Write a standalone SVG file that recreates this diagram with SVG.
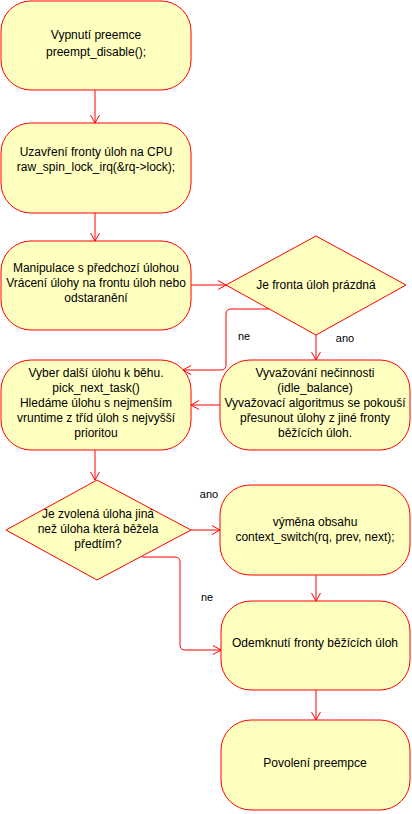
<svg xmlns="http://www.w3.org/2000/svg" width="412" height="814" viewBox="0 0 412 814">
<style>
.n{fill:#ffffc0;stroke:#ff0000;stroke-width:1}
.t{font-family:"Liberation Sans",Arial,sans-serif;font-size:12px;fill:#000;text-anchor:middle}
.l{font-family:"Liberation Sans",Arial,sans-serif;font-size:11px;fill:#000;text-anchor:middle}
.c{fill:none;stroke:#ff0000;stroke-width:1}
</style>
<defs>
<marker id="a" markerUnits="userSpaceOnUse" markerWidth="10" markerHeight="11" refX="9" refY="5" orient="auto">
<path d="M1,0.5 L9,5 L1,9.5" fill="none" stroke="#ff0000" stroke-width="1"/>
</marker>
</defs>
<rect width="412" height="814" fill="#fff"/>
<g id="connectors">
<path class="c" d="M95,90 V123" marker-end="url(#a)"/>
<path class="c" d="M95,213 V241" marker-end="url(#a)"/>
<path class="c" d="M191,285 H226" marker-end="url(#a)"/>
<path class="c" d="M270,309 H231 Q226,309 226,314 V365 Q226,370 221,370 H183" marker-end="url(#a)"/>
<path class="c" d="M316,335 V360" marker-end="url(#a)"/>
<path class="c" d="M220,405 H191" marker-end="url(#a)"/>
<path class="c" d="M95,450 V480" marker-end="url(#a)"/>
<path class="c" d="M191,530 H220" marker-end="url(#a)"/>
<path class="c" d="M142,557 H175 Q180,557 180,562 V645 Q180,650 185,650 H221" marker-end="url(#a)"/>
<path class="c" d="M316,575 V601" marker-end="url(#a)"/>
<path class="c" d="M316,690 V720" marker-end="url(#a)"/>
<text class="l" x="244" y="340">ne</text>
<text class="l" x="345" y="342">ano</text>
<text class="l" x="209" y="498">ano</text>
<text class="l" x="207" y="601">ne</text>
</g>
<g id="n1">
<rect class="n" x="1" y="1" width="190" height="89" rx="30" ry="30"/>
<text class="t" x="96" y="39">Vypnutí preemce</text>
<text class="t" x="96" y="56">preempt_disable();</text>
</g>
<g id="n2">
<rect class="n" x="1" y="123" width="190" height="90" rx="30" ry="30"/>
<text class="t" x="96" y="156">Uzavření fronty úloh na CPU</text>
<text class="t" x="96" y="171">raw_spin_lock_irq(&amp;rq-&gt;lock);</text>
</g>
<g id="n3">
<rect class="n" x="1" y="241" width="190" height="89" rx="30" ry="30"/>
<text class="t" x="96" y="272">Manipulace s předchozí úlohou</text>
<text class="t" x="96" y="287">Vrácení úlohy na frontu úloh nebo</text>
<text class="t" x="96" y="302">odstaranění</text>
</g>
<g id="d1">
<polygon class="n" points="226,285 316,236 406,285 316,335"/>
<text class="t" x="316" y="289">Je fronta úloh prázdná</text>
</g>
<g id="n4">
<rect class="n" x="1" y="360" width="190" height="90" rx="30" ry="30"/>
<text class="t" x="96" y="377">Vyber další úlohu k běhu.</text>
<text class="t" x="96" y="392">pick_next_task()</text>
<text class="t" x="96" y="407">Hledáme úlohu s nejmenším</text>
<text class="t" x="96" y="422">vruntime z tříd úloh s nejvyšší</text>
<text class="t" x="96" y="437">prioritou</text>
</g>
<g id="n5">
<rect class="n" x="220" y="360" width="190" height="90" rx="30" ry="30"/>
<text class="t" x="315" y="377">Vyvažování nečinnosti</text>
<text class="t" x="315" y="392">(idle_balance)</text>
<text class="t" x="315" y="407">Vyvažovací algoritmus se pokouší</text>
<text class="t" x="315" y="422">přesunout úlohy z jiné fronty</text>
<text class="t" x="315" y="437">běžících úloh.</text>
</g>
<g id="d2">
<polygon class="n" points="6,530 97,480 191,530 97,580"/>
<text class="t" x="98" y="518">Je zvolená úloha jiná</text>
<text class="t" x="98" y="533">než úloha která běžela</text>
<text class="t" x="98" y="548">předtím?</text>
</g>
<g id="n6">
<rect class="n" x="220" y="485" width="190" height="90" rx="30" ry="30"/>
<text class="t" x="315" y="526">výměna obsahu</text>
<text class="t" x="315" y="541">context_switch(rq, prev, next);</text>
</g>
<g id="n7">
<rect class="n" x="221" y="601" width="189" height="89" rx="30" ry="30"/>
<text class="t" x="315" y="647">Odemknutí fronty běžících úloh</text>
</g>
<g id="n8">
<rect class="n" x="221" y="720" width="189" height="90" rx="30" ry="30"/>
<text class="t" x="315" y="767">Povolení preempce</text>
</g>
</svg>
